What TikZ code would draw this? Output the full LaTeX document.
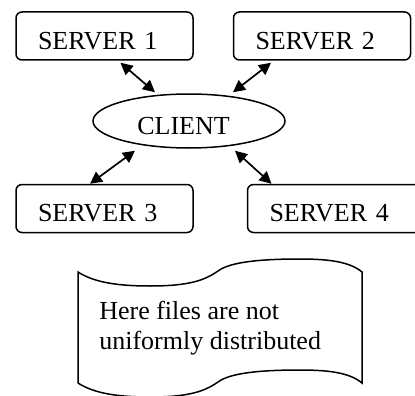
\documentclass[tikz,border=0pt]{standalone}
\usepackage{fontspec}
\setmainfont{Liberation Serif}
\usetikzlibrary{positioning,arrows.meta,shapes.geometric}

\begin{document}
\begin{tikzpicture}[x=1pt,y=-1pt,semithick,
      every node/.style={font=\fontsize{26}{30}\selectfont},
      server/.style={draw,rounded corners=6pt,line width=1.5pt,
        minimum width=177pt,minimum height=48pt,text width=133pt,
        inner xsep=22pt,align=left,text height=28pt,text depth=2pt},
      link/.style={<->,>={Triangle[length=12pt,width=12pt]},line width=1.7pt}]
    \useasboundingbox (0,0) rectangle (415,396);
    \node[server] (s1) at (104.5,36) {SERVER 1};
    \node[server,right=39pt of s1] (s2) {SERVER 2};
    \node[server,below=123pt of s1] (s3) {SERVER 3};
    \node[server,right=53pt of s3] (s4) {SERVER 4};
    \node[draw,ellipse,line width=1.5pt,minimum width=192pt,minimum height=54pt,
      inner sep=0pt,text height=28pt,text depth=2pt] (client) at (189,121)
      {CLIENT\kern11pt};
    \draw[link] ([xshift=16pt,yshift=-2pt]s1.south) -- ([xshift=-34pt,yshift=1pt]client.north);
    \draw[link] ([xshift=-51pt,yshift=-2pt]s2.south) -- ([xshift=44pt,yshift=1pt]client.north);
    \draw[link] ([xshift=-54pt,yshift=-2pt]client.south) -- ([xshift=-14.5pt]s3.north);
    \draw[link] ([xshift=46pt,yshift=-2pt]client.south) -- ([xshift=-64.5pt]s4.north);
    % wavy note sheet
    \draw[line width=1.5pt] (78,272)
      .. controls (95,283) and (120,286) .. (150,286)
      .. controls (190,286) and (205,280) .. (218,271)
      .. controls (230,262) and (260,259) .. (300,259)
      .. controls (330,259) and (350,262) .. (362,272) -- (362,383)
      .. controls (350,373) and (330,370) .. (300,370)
      .. controls (260,370) and (230,373) .. (218,382)
      .. controls (205,391) and (190,397) .. (150,397)
      .. controls (120,397) and (95,394) .. (78,383) -- cycle;
    \node[anchor=north west,inner sep=0pt,align=left] (note) at (99,300.5)
      {Here files are not\\uniformly distributed};
  \end{tikzpicture}
\end{document}
